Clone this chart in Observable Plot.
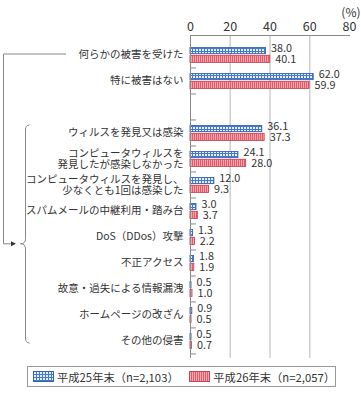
<!DOCTYPE html>
<html><head><meta charset="utf-8">
<script src="https://cdn.jsdelivr.net/npm/d3@7"></script>
<script src="https://cdn.jsdelivr.net/npm/@observablehq/plot@0.6"></script>
<style>
body{margin:0;background:#fff;font-family:'Noto Sans CJK JP',sans-serif;color:#333;}
#chart svg{display:block;}
.legend{margin-left:27px;margin-top:4px;width:307px;height:19px;border:1px solid #999;display:flex;align-items:center;font-size:11.3px;color:#333;white-space:nowrap;}
.legend .item{display:flex;align-items:center;}
.legend svg{display:block;margin-right:3px;}
</style></head>
<body>
<div id="chart"></div>
<script>
const categories = [
  "何らかの被害を受けた",
  "特に被害はない",
  "ウィルスを発見又は感染",
  "コンピュータウィルスを\n発見したが感染しなかった",
  "コンピュータウィルスを発見し、\n少なくとも1回は感染した",
  "スパムメールの中継利用・踏み台",
  "DoS（DDos）攻撃",
  "不正アクセス",
  "故意・過失による情報漏洩",
  "ホームページの改ざん",
  "その他の侵害"
];
const series25 = [38.0, 62.0, 36.1, 24.1, 12.0, 3.0, 1.3, 1.8, 0.5, 0.9, 0.5];
const series26 = [40.1, 59.9, 37.3, 28.0, 9.3, 3.7, 2.2, 1.9, 1.0, 0.5, 0.7];
const seriesNames = ["平成25年末（n=2,103）", "平成26年末（n=2,057）"];
const xTicks = [0, 20, 40, 60, 80];
const gridTicks = [20, 40, 60];
const gapLabel = " ";

const yDomain = [categories[0], categories[1], gapLabel, ...categories.slice(2)];
const rows = categories.map((c, i) => ({cat: c, v25: series25[i], v26: series26[i]}));
const font = "'Noto Sans CJK JP', sans-serif";

const plot = Plot.plot({
  width: 361, height: 362,
  marginLeft: 190, marginRight: 12, marginTop: 35, marginBottom: 4,
  x: {domain: [0, 80]},
  y: {domain: yDomain, padding: 0},
  style: {fontFamily: font, fontSize: "11px", color: "#333", background: "#fff"},
  marks: [
    Plot.ruleX(gridTicks, {stroke: "#cfcfcf", strokeWidth: 1.5}),
    Plot.barX(rows, {x: "v25", y: "cat", fill: "url(#pat25)", stroke: "#3464b4", strokeWidth: 0.9, insetTop: 6.5, insetBottom: 13.4}),
    Plot.barX(rows, {x: "v26", y: "cat", fill: "url(#pat26)", stroke: "#c24656", strokeWidth: 0.9, insetTop: 14.3, insetBottom: 4.6}),
    Plot.text(rows, {x: "v25", y: "cat", text: d => d.v25.toFixed(1), dx: 5, dy: -5.5, textAnchor: "start", fontSize: 10.8, fill: "#333"}),
    Plot.text(rows, {x: "v26", y: "cat", text: d => d.v26.toFixed(1), dx: 5, dy: 5.5, textAnchor: "start", fontSize: 10.8, fill: "#333"}),
    Plot.ruleX([0], {stroke: "#888"}),
    Plot.ruleY(yDomain, {y: d => d, x1: 0, x2: 3, dy: 13.45, stroke: "#888"}),
    Plot.ruleX([80], {x: d => d, y: () => yDomain[0], insetBottom: 21, stroke: "#888"}),
    Plot.frame({anchor: "top", stroke: "#888"}),
    Plot.axisX({anchor: "top", ticks: xTicks, tickSize: 0, tickPadding: 5, fontSize: 12.5, label: null}),
    Plot.axisY({tickSize: 0, tickPadding: 7, fontSize: 10.5, label: null, lineHeight: 1.05}),
    Plot.text(["(%)"], {frameAnchor: "top-right", dx: 11, dy: -27, fontSize: 12, fill: "#333"})
  ]
});

const svg = d3.select(plot);
const defs = svg.insert("defs", ":first-child");
const p25 = defs.append("pattern").attr("id", "pat25").attr("patternUnits", "userSpaceOnUse").attr("width", 3).attr("height", 3);
p25.append("rect").attr("width", 3).attr("height", 3).attr("fill", "#4378cc");
p25.append("rect").attr("x", 1).attr("y", 1).attr("width", 2).attr("height", 2).attr("fill", "#e6eefa");
const p26 = defs.append("pattern").attr("id", "pat26").attr("patternUnits", "userSpaceOnUse").attr("width", 2).attr("height", 2);
p26.append("rect").attr("width", 2).attr("height", 2).attr("fill", "#f6a9b0");
p26.append("rect").attr("width", 1).attr("height", 2).attr("fill", "#e65a6a");

// bracket annotations, positioned with the y scale
const ys = plot.scale("y");
const bw = ys.bandwidth;
const yTop = ys.apply(categories[0]) + bw / 2;
const braceTop = ys.apply(categories[2]) + 6;
const braceBot = ys.apply(categories[10]) + bw - 10;
const tipY = ys.apply(categories[6]) + bw * 0.8;
const ann = svg.append("g").attr("fill", "none").attr("stroke", "#888").attr("stroke-width", 1);
ann.append("path").attr("d", `M66,${yTop}H3.5V${tipY}H12`);
svg.append("path").attr("d", `M16,${tipY}L11,${tipY - 2.5}L11,${tipY + 2.5}Z`).attr("fill", "#333");
ann.append("path").attr("d",
  `M29.5,${braceTop}Q25.5,${braceTop} 25.5,${braceTop + 5}L25.5,${tipY - 5}Q25.5,${tipY} 20.5,${tipY}Q25.5,${tipY} 25.5,${tipY + 5}L25.5,${braceBot - 5}Q25.5,${braceBot} 29.5,${braceBot}`);

document.getElementById("chart").appendChild(plot);

// legend
const legend = d3.select("body").append("div").attr("class", "legend");
const pats = ["pat25", "pat26"], strokes = ["#3464b4", "#c24656"];
seriesNames.forEach((name, i) => {
  const item = legend.append("div").attr("class", "item")
    .style("margin-left", "5px").style("width", i === 0 ? "152px" : null);
  const s = item.append("svg").attr("width", 21).attr("height", 11);
  s.append("rect").attr("x", 0.5).attr("y", 0.5).attr("width", 20).attr("height", 10).attr("fill", `url(#${pats[i]})`).attr("stroke", strokes[i]);
  item.append("span").text(name);
});
</script>
</body></html>
